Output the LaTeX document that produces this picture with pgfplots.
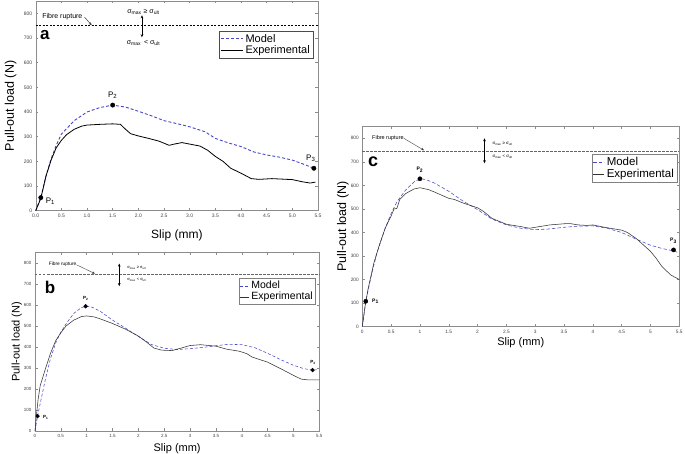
\documentclass[border=0pt]{standalone}
\usepackage{fontspec}
\setmainfont{Liberation Sans}
\usepackage{pgfplots}
\pgfplotsset{compat=1.18}
\usetikzlibrary{arrows.meta}
\definecolor{modelblue}{RGB}{70,70,205}
\pgfplotsset{
  myax/.style={scale only axis, anchor=south west,
    xmin=0,xmax=5.5,ymin=0,ymax=850,
    ytick={0,100,...,800}, xtick={0,0.5,...,5.5},
    tick align=inside, major tick length=2.5pt,
    ticklabel style={font=\fontsize{5}{6}\selectfont, text=black!75},
    axis line style={black!45}, every tick/.style={black!45, line width=0.4pt},
    /pgf/number format/assume math mode=true,
    legend cell align=left,
    clip=false},
  ll/.style={legend image code/.code={\draw[##1] (0pt,0pt) -- (#1,0pt);}},
}
\tikzset{arr/.style={-{Stealth[length=3pt,width=2.6pt]}}, darr/.style={{Stealth[length=3pt,width=2.6pt]}-{Stealth[length=3pt,width=2.6pt]}}}
\begin{document}
\begin{tikzpicture}
\useasboundingbox (0,0) rectangle (685pt,454pt);
% ---------------- a ----------------
\begin{axis}[myax, at={(35.7pt,243.3pt)}, width=282.3pt, height=209.7pt,
  xticklabel style={/pgf/number format/.cd,fixed,fixed zerofill,precision=1},
  xlabel={Slip (mm)}, ylabel={Pull-out load (N)},
  xlabel style={font=\fontsize{12}{14}\selectfont, at={(axis description cs:0.5,-0.118)}, anchor=center},
  ylabel style={font=\fontsize{12.5}{14}\selectfont, at={(axis description cs:-0.089,0.5)}, anchor=center, rotate=0},
  legend style={at={(0.982,0.857)}, anchor=north east, draw=black!70, font=\fontsize{11}{12}\selectfont, inner sep=1pt, row sep=-2pt},
  ll=22pt]
\addplot[black, dashed, dash pattern=on 2pt off 1.5pt, line width=0.6pt, forget plot] coordinates {(0,750) (5.5,750)};
\addplot[modelblue, line width=0.9pt, dash pattern=on 3pt off 2pt] coordinates {
(0,0) (0.1,53) (0.2,140) (0.3,210) (0.4,265) (0.5,310) (0.6,332) (0.75,365) (1.0,400) (1.25,418) (1.5,428) (1.75,420) (2.0,403) (2.25,385) (2.5,365) (2.75,353) (3.0,340) (3.3,320) (3.5,293) (3.75,275) (4.0,260) (4.25,238) (4.5,226) (4.75,217) (5.0,205) (5.2,190) (5.42,172)};
\addlegendentry{Model}
\addplot[black, line width=0.8pt] coordinates {
(0,0) (0.1,50) (0.2,140) (0.3,205) (0.4,255) (0.5,285) (0.6,308) (0.75,330) (0.9,343) (1.0,347) (1.25,350) (1.5,352) (1.65,350) (1.75,330) (1.85,312) (2.0,303) (2.2,293) (2.4,282) (2.6,265) (2.7,270) (2.85,276) (3.0,270) (3.2,262) (3.35,245) (3.5,220) (3.65,200) (3.8,172) (4.0,152) (4.2,130) (4.35,127) (4.6,130) (4.8,128) (5.0,126) (5.2,117) (5.35,112) (5.45,116)};
\addlegendentry{Experimental}
\addplot[only marks, mark=*, mark size=2.2pt, black, forget plot] coordinates {(0.1,53) (1.5,428) (5.42,172)};
\node[anchor=west, font=\fontsize{8}{9}\selectfont] at (axis cs:0.13,38) {P\textsubscript{1}};
\node[anchor=south, font=\fontsize{8}{9}\selectfont] at (axis cs:1.5,440) {P\textsubscript{2}};
\node[anchor=south, font=\fontsize{8}{9}\selectfont] at (axis cs:5.36,185) {P\textsubscript{3}};
\node[anchor=west, font=\fontsize{7}{8}\selectfont] at (axis cs:0.06,786) {Fibre rupture};
\draw[arr, black!80, line width=0.45pt] (axis cs:0.95,785) -- (axis cs:1.09,752);
\draw[darr, black, line width=0.45pt] (axis cs:2.07,703) -- (axis cs:2.07,792);
\node[font=\fontsize{7}{8}\selectfont, inner sep=0.5pt] at (axis cs:2.1,806) {σ\textsubscript{max}\hspace{2pt}≥ σ\textsubscript{ult}};
\node[font=\fontsize{7}{8}\selectfont] at (axis cs:2.1,680) {σ\textsubscript{max} \hspace{1pt}< σ\textsubscript{ult}};
\node[font=\bfseries\fontsize{17}{18}\selectfont] at (axis cs:0.18,712) {a};
\end{axis}
% ---------------- b ----------------
\begin{axis}[myax, at={(35pt,23pt)}, width=284.3pt, height=178.5pt,
  ticklabel style={font=\fontsize{4.5}{5}\selectfont},
  xlabel={Slip (mm)}, ylabel={Pull-out load (N)},
  xlabel style={font=\fontsize{11}{13}\selectfont, at={(axis description cs:0.5,-0.097)}, anchor=center},
  ylabel style={font=\fontsize{11}{13}\selectfont, at={(axis description cs:-0.064,0.5)}, anchor=center},
  legend style={at={(0.988,0.857)}, anchor=north east, draw=black!50, font=\fontsize{10.5}{12}\selectfont, inner sep=1pt, row sep=-2pt},
  ll=9pt]
\addplot[black!60, dash pattern=on 2.5pt off 1.5pt, line width=0.5pt, forget plot] coordinates {(0,745) (5.5,745)};
\addplot[modelblue, line width=0.55pt, dash pattern=on 3pt off 2pt] coordinates {
(0,0) (0.05,71) (0.1,130) (0.2,245) (0.3,345) (0.4,420) (0.5,470) (0.6,510) (0.75,560) (0.9,588) (1.0,594) (1.1,590) (1.25,572) (1.5,528) (1.75,490) (2.0,450) (2.25,412) (2.5,394) (2.75,388) (3.0,392) (3.25,398) (3.5,406) (3.75,413) (4.0,411) (4.25,397) (4.5,370) (4.75,340) (5.0,313) (5.2,297) (5.37,290) (5.45,292)};
\addlegendentry{Model}
\addplot[black!80, line width=0.55pt] coordinates {
(0,0) (0.03,80) (0.06,150) (0.1,215) (0.2,295) (0.3,370) (0.4,430) (0.5,468) (0.6,500) (0.75,528) (0.9,545) (1.0,548) (1.15,543) (1.25,535) (1.5,512) (1.75,485) (2.0,452) (2.15,425) (2.3,395) (2.45,385) (2.65,383) (2.8,393) (3.0,407) (3.2,411) (3.5,404) (3.7,390) (3.95,380) (4.1,368) (4.2,352) (4.5,328) (4.75,297) (5.0,265) (5.15,247) (5.3,243) (5.5,243)};
\addlegendentry{Experimental}
\addplot[only marks, mark=*, mark size=1.9pt, black, forget plot] coordinates {(0.05,71) (0.98,594) (5.37,290)};
\node[anchor=west, font=\bfseries\fontsize{4.5}{5}\selectfont] at (axis cs:0.09,66) {P\textsubscript{1}};
\node[anchor=south, font=\bfseries\fontsize{4.5}{5}\selectfont] at (axis cs:0.98,605) {P\textsubscript{2}};
\node[anchor=south, font=\bfseries\fontsize{4.5}{5}\selectfont] at (axis cs:5.38,300) {P\textsubscript{3}};
\node[anchor=west, font=\fontsize{4.8}{5}\selectfont] at (axis cs:0.2,794) {Fibre rupture};
\draw[arr, black!75, line width=0.4pt] (axis cs:0.8,792) -- (axis cs:1.16,749);
\draw[darr, black, line width=0.4pt] (axis cs:1.63,690) -- (axis cs:1.63,797);
\node[anchor=west, font=\fontsize{4}{5}\selectfont] at (axis cs:1.72,775) {σ\textsubscript{max} ≥ σ\textsubscript{ult}};
\node[anchor=west, font=\fontsize{4}{5}\selectfont] at (axis cs:1.72,718) {σ\textsubscript{max} < σ\textsubscript{ult}};
\node[font=\bfseries\fontsize{17}{18}\selectfont] at (axis cs:0.29,686) {b};
\end{axis}
% ---------------- c ----------------
\begin{axis}[myax, at={(362.3pt,127.3pt)}, width=317pt, height=200.2pt,
  ticklabel style={font=\fontsize{4.8}{5}\selectfont},
  xlabel={Slip (mm)}, ylabel={Pull-out load (N)},
  xlabel style={font=\fontsize{11}{13}\selectfont, at={(axis description cs:0.5,-0.08)}, anchor=center},
  ylabel style={font=\fontsize{12.5}{14}\selectfont, at={(axis description cs:-0.061,0.5)}, anchor=center},
  legend style={at={(0.993,0.863)}, anchor=north east, draw=black!50, font=\fontsize{11.5}{13}\selectfont, inner sep=1pt, row sep=-2pt},
  ll=11pt]
\addplot[black!60, dash pattern=on 2.5pt off 1.5pt, line width=0.5pt, forget plot] coordinates {(0,747) (5.5,747)};
\addplot[modelblue, line width=0.55pt, dash pattern=on 3.5pt off 2pt] coordinates {
(0,0) (0.06,108) (0.15,210) (0.25,310) (0.4,420) (0.5,480) (0.6,530) (0.75,580) (0.9,615) (1.0,628) (1.1,625) (1.25,610) (1.5,575) (1.75,533) (2.0,497) (2.25,457) (2.5,432) (2.75,418) (3.0,412) (3.25,415) (3.5,422) (3.75,427) (4.0,428) (4.25,418) (4.5,400) (4.75,372) (5.0,346) (5.2,332) (5.4,322) (5.47,316)};
\addlegendentry{Model}
\addplot[black!80, line width=0.55pt] coordinates {
(0,0) (0.05,90) (0.1,160) (0.2,270) (0.3,350) (0.4,420) (0.5,470) (0.55,500) (0.6,502) (0.65,540) (0.75,565) (0.9,585) (1.0,590) (1.15,582) (1.25,572) (1.5,545) (1.6,540) (1.75,525) (2.0,505) (2.1,490) (2.25,460) (2.5,435) (2.75,425) (2.9,418) (3.0,422) (3.25,432) (3.5,437) (3.6,438) (3.75,432) (3.9,430) (4.0,432) (4.25,420) (4.5,410) (4.6,400) (4.75,375) (5.0,320) (5.1,290) (5.2,255) (5.35,220) (5.5,200)};
\addlegendentry{Experimental}
\addplot[only marks, mark=*, mark size=2.1pt, black, forget plot] coordinates {(0.06,108) (1.0,628) (5.4,326)};
\node[anchor=west, font=\bfseries\fontsize{5}{6}\selectfont] at (axis cs:0.11,108) {P\textsubscript{1}};
\node[anchor=south, font=\bfseries\fontsize{5}{6}\selectfont] at (axis cs:1.0,640) {P\textsubscript{2}};
\node[anchor=south, font=\bfseries\fontsize{5}{6}\selectfont] at (axis cs:5.4,338) {P\textsubscript{3}};
\node[anchor=west, font=\fontsize{5.5}{6}\selectfont] at (axis cs:0.11,801) {Fibre rupture};
\draw[arr, black!75, line width=0.4pt] (axis cs:0.72,800) -- (axis cs:1.07,749);
\draw[darr, black, line width=0.4pt] (axis cs:2.12,694) -- (axis cs:2.12,800);
\node[anchor=west, font=\fontsize{4.3}{5}\selectfont] at (axis cs:2.2,776) {σ\textsubscript{max} ≥ σ\textsubscript{ult}};
\node[anchor=west, font=\fontsize{4.3}{5}\selectfont] at (axis cs:2.2,722) {σ\textsubscript{max} < σ\textsubscript{ult}};
\node[font=\bfseries\fontsize{18}{19}\selectfont] at (axis cs:0.19,700) {c};
\end{axis}
\end{tikzpicture}
\end{document}
